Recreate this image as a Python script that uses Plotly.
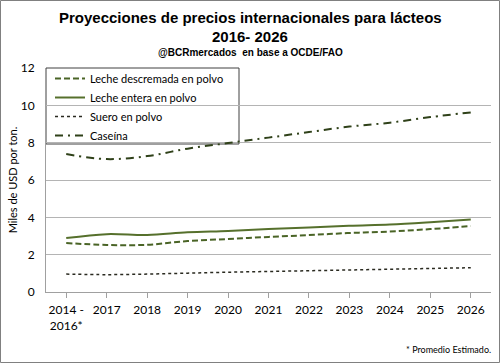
import plotly.graph_objects as go

categories = ["2014 -<br>2016*", "2017", "2018", "2019", "2020", "2021",
              "2022", "2023", "2024", "2025", "2026"]
leche_descremada = [2.62, 2.52, 2.53, 2.73, 2.84, 2.95, 3.05, 3.16, 3.24, 3.37, 3.53]
leche_entera = [2.89, 3.10, 3.05, 3.20, 3.27, 3.37, 3.45, 3.55, 3.62, 3.74, 3.88]
suero = [0.96, 0.93, 0.96, 1.01, 1.06, 1.10, 1.14, 1.18, 1.22, 1.26, 1.30]
caseina = [7.39, 7.12, 7.28, 7.68, 7.98, 8.27, 8.57, 8.86, 9.07, 9.37, 9.62]

W, H = 500, 363
L, R, T, B = 46, 9, 68, 71
pw, ph = W - L - R, H - T - B

def px(x):
    return (x - L) / pw

def py(y):
    return (H - B - y) / ph

x_idx = list(range(len(categories)))

fig = go.Figure()
fig.add_trace(go.Scatter(x=x_idx, y=leche_descremada, name="Leche descremada en polvo",
                         mode="lines", line=dict(color="#4a6426", width=2, dash="6px,3px", shape="spline")))
fig.add_trace(go.Scatter(x=x_idx, y=leche_entera, name="Leche entera en polvo",
                         mode="lines", line=dict(color="#56702c", width=2, shape="spline")))
fig.add_trace(go.Scatter(x=x_idx, y=suero, name="Suero en polvo",
                         mode="lines", line=dict(color="#2a2a20", width=1.5, dash="dot", shape="spline")))
fig.add_trace(go.Scatter(x=x_idx, y=caseina, name="Caseína",
                         mode="lines", line=dict(color="#2f4119", width=2, dash="8px,5px,2px,5px", shape="spline")))

font_main = "Lato, Liberation Sans, sans-serif"
title_font = "Liberation Sans Narrow, Liberation Sans, sans-serif"

fig.update_layout(
    width=W, height=H,
    margin=dict(l=L, r=R, t=T, b=B, autoexpand=False),
    paper_bgcolor="white", plot_bgcolor="white",
    font=dict(family=font_main, size=12, color="black"),
    showlegend=True,
    legend=dict(x=px(50), y=py(64), xanchor="left", yanchor="top",
                bgcolor="rgba(0,0,0,0)", borderwidth=0, itemwidth=30,
                font=dict(size=11, family=font_main), tracegroupgap=0),
    xaxis=dict(range=[-0.5, 10.5], tickmode="array", tickvals=x_idx, ticktext=categories,
               showgrid=False, showline=True, linecolor="#a0a0a0", linewidth=1,
               ticks="outside", ticklen=5, tickcolor="#a0a0a0", automargin=False,
               ticklabelstandoff=2,
               tickfont=dict(size=12), zeroline=False, fixedrange=True),
    yaxis=dict(range=[0, 12], dtick=2, showgrid=True, gridcolor="#b4b4b4", gridwidth=1,
               showline=True, linecolor="#a0a0a0", linewidth=1, zeroline=False,
               ticks="", ticklabelstandoff=8, tickfont=dict(size=12), automargin=False,
               fixedrange=True,
               title=dict(text="Miles de USD por ton.", font=dict(size=11), standoff=0)),
    shapes=[
        dict(type="rect", xref="paper", yref="paper",
             x0=px(46), x1=px(239), y0=py(144), y1=py(68),
             line=dict(color="#404040", width=1), fillcolor="white", layer="between"),
        dict(type="rect", xref="paper", yref="paper",
             x0=px(0.5), x1=px(499.5), y0=py(362.5), y1=py(0.5),
             line=dict(color="#808080", width=1), fillcolor="rgba(0,0,0,0)", layer="above"),
    ],
    annotations=[
        dict(text="<b>Proyecciones de precios internacionales para lácteos</b>",
             xref="paper", yref="paper", x=px(250), y=py(17), showarrow=False,
             xanchor="center", yanchor="middle", font=dict(family=title_font, size=15)),
        dict(text="<b>2016- 2026</b>",
             xref="paper", yref="paper", x=px(250), y=py(37), showarrow=False,
             xanchor="center", yanchor="middle", font=dict(family=title_font, size=15)),
        dict(text="<b>@BCRmercados  en base a OCDE/FAO</b>",
             xref="paper", yref="paper", x=px(250), y=py(53), showarrow=False,
             xanchor="center", yanchor="middle", font=dict(family=title_font, size=10)),
        dict(text="* Promedio Estimado.",
             xref="paper", yref="paper", x=px(493), y=py(349), showarrow=False,
             xanchor="right", yanchor="middle", font=dict(family=font_main, size=9)),
    ],
)

fig.write_html("out.html", config={"displayModeBar": False},
               post_script="document.body.style.margin='0';document.body.style.overflow='hidden';")
